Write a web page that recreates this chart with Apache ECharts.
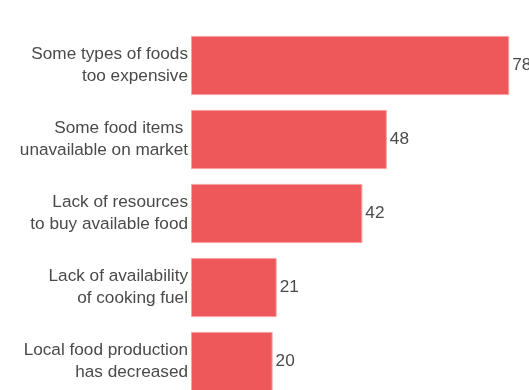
<!DOCTYPE html>
<html>
<head>
<meta charset="utf-8">
<script src="https://cdn.jsdelivr.net/npm/echarts@6/dist/echarts.min.js"></script>
<style>
  html, body { margin: 0; padding: 0; background: #fff; }
  #main { width: 529px; height: 390px; }
</style>
</head>
<body>
<div id="main"></div>
<script>
var categories = [
    'Some types of foods\ntoo expensive',
    'Some food items \nunavailable on market',
    'Lack of resources\nto buy available food',
    'Lack of availability\nof cooking fuel',
    'Local food production\nhas decreased'
];
var values = [78, 48, 42, 21, 20];

var chart = echarts.init(document.getElementById('main'));
var option = {
    animation: false,
    grid: {
        left: 191,
        top: 28.5,
        width: 408,
        height: 370,
        outerBoundsMode: 'none',
        containLabel: false
    },
    xAxis: {
        type: 'value',
        min: 0,
        max: 100,
        show: false
    },
    yAxis: {
        type: 'category',
        data: categories,
        inverse: true,
        axisLine: { show: false },
        axisTick: { show: false },
        axisLabel: {
            margin: 3,
            padding: [4, 0, 0, 0],
            fontFamily: 'Liberation Sans',
            fontSize: 17.2,
            lineHeight: 22.5,
            color: '#4a4a4a',
            align: 'right'
        }
    },
    series: [
        {
            type: 'bar',
            data: values,
            barCategoryGap: '20%',
            itemStyle: {
                color: '#ee585a',
                borderColor: '#f5a3a3',
                borderWidth: 1
            },
            label: {
                show: true,
                position: 'right',
                distance: 3,
                padding: [4, 0, 0, 0],
                fontFamily: 'Liberation Sans',
                fontSize: 17.2,
                color: '#4a4a4a'
            }
        }
    ]
};
chart.setOption(option);
</script>
</body>
</html>
